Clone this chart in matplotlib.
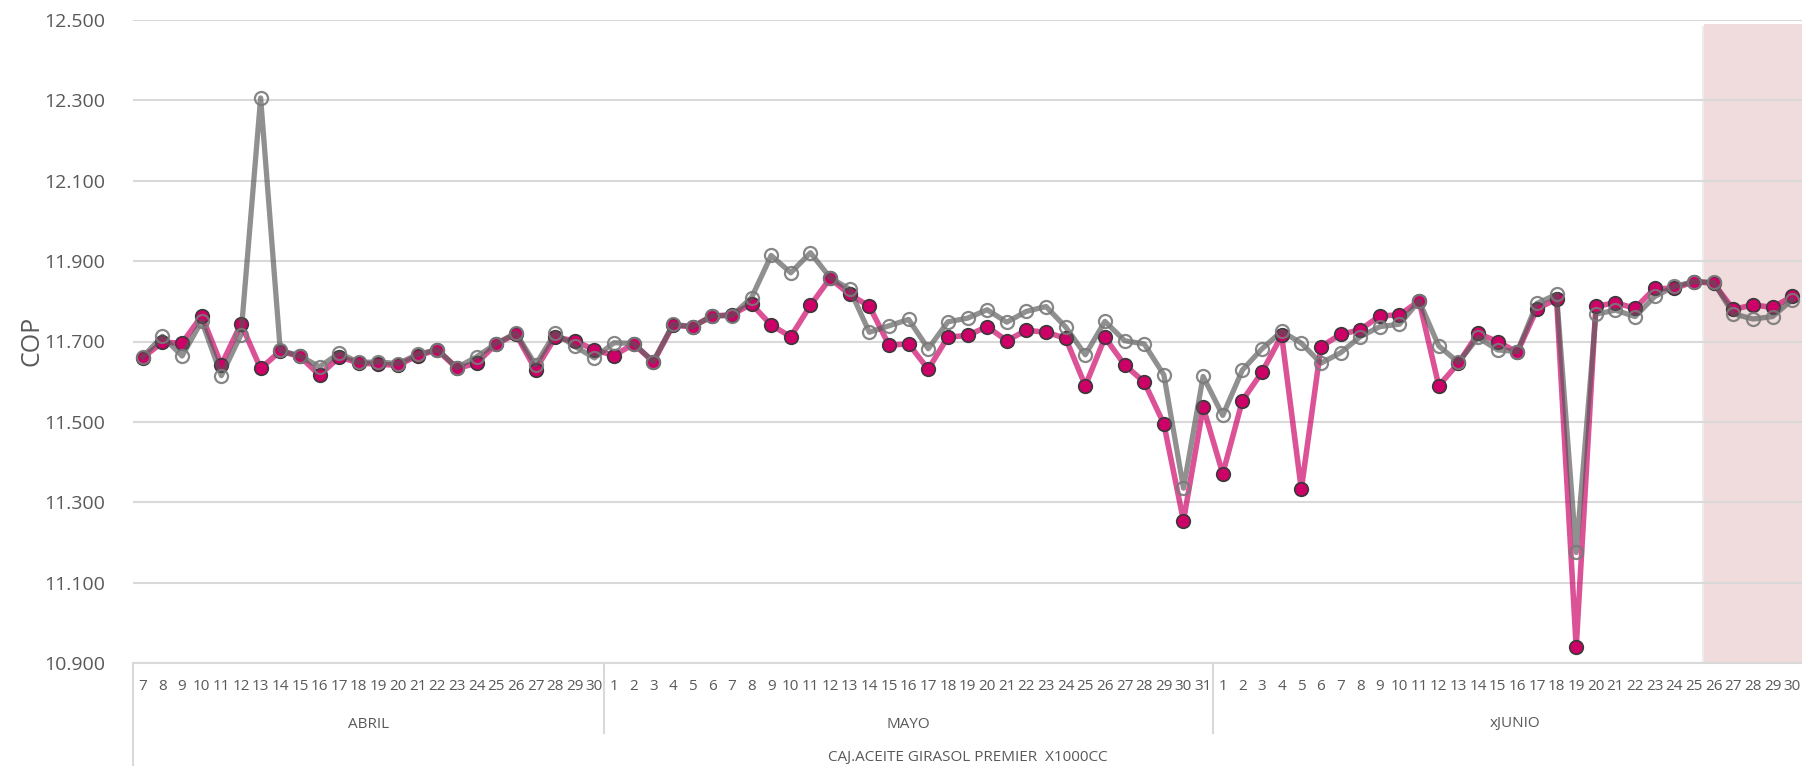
import matplotlib
matplotlib.use("Agg")
import matplotlib.pyplot as plt
from matplotlib.patches import Rectangle
import matplotlib.patheffects as pe

plt.rcParams['font.family'] = ['Open Sans', 'DejaVu Sans']

# ---------------- data ----------------
months = ["ABRIL", "MAYO", "xJUNIO"]
abril_days = list(range(7, 31))
mayo_days = list(range(1, 32))
junio_days = list(range(1, 31))
product = "CAJ.ACEITE GIRASOL PREMIER  X1000CC"

serie_magenta = [
    # ABRIL 7-30
    11660, 11698, 11696, 11764, 11642, 11744, 11633, 11676, 11663, 11616,
    11661, 11647, 11643, 11641, 11665, 11679, 11633, 11646, 11694, 11718,
    11630, 11710, 11702, 11679,
    # MAYO 1-31
    11665, 11694, 11649, 11740, 11737, 11763, 11767, 11793, 11741, 11712,
    11790, 11857, 11817, 11788, 11691, 11694, 11631, 11711, 11715, 11737,
    11702, 11728, 11723, 11708, 11590, 11710, 11642, 11599, 11495, 11254,
    11537,
    # JUNIO 1-30
    11371, 11553, 11624, 11715, 11332, 11687, 11718, 11729, 11764, 11766,
    11801, 11590, 11646, 11720, 11700, 11673, 11781, 11806, 10939, 11788,
    11796, 11783, 11832, 11832, 11849, 11845, 11780, 11791, 11785, 11812,
]

serie_gris = [
    # ABRIL 7-30
    11662, 11713, 11664, 11751, 11615, 11717, 12306, 11678, 11664, 11637,
    11671, 11648, 11649, 11645, 11668, 11680, 11635, 11662, 11695, 11721,
    11642, 11721, 11688, 11659,
    # MAYO 1-31
    11697, 11695, 11650, 11743, 11737, 11764, 11764, 11809, 11914, 11871,
    11921, 11859, 11830, 11723, 11739, 11755, 11682, 11749, 11758, 11779,
    11748, 11775, 11787, 11736, 11667, 11750, 11702, 11694, 11617, 11335,
    11613,
    # JUNIO 1-30
    11516, 11629, 11682, 11725, 11696, 11646, 11672, 11712, 11737, 11743,
    11801, 11689, 11648, 11710, 11679, 11675, 11795, 11817, 11175, 11768,
    11778, 11762, 11812, 11837, 11849, 11847, 11769, 11756, 11762, 11804,
]

y_ticks = [10900, 11100, 11300, 11500, 11700, 11900, 12100, 12300, 12500]
shade_start_index = 80   # JUNIO 26 onward is shaded

# ---------------- figure ----------------
W, H = 1802, 766
fig = plt.figure(figsize=(W / 100, H / 100), dpi=100)
ax_left, ax_right, ax_top, ax_bot = 133, 1802, 20, 663
ax = fig.add_axes([ax_left / W, 1 - ax_bot / H, (ax_right - ax_left) / W, (ax_bot - ax_top) / H])

day_labels = [str(d) for d in abril_days + mayo_days + junio_days]
n = len(day_labels)
x = list(range(n))

ax.set_xlim(-0.5, n - 0.5)
ax.set_ylim(y_ticks[0], y_ticks[-1])

# gridlines
for yt in y_ticks:
    ax.axhline(yt, color="#d9d9d9", lw=1.5, zorder=1)

# shaded region
shade = Rectangle((shade_start_index - 0.5, y_ticks[0]), n - shade_start_index + 1,
                  12490 - y_ticks[0], facecolor="#f0dcdc", edgecolor="none", zorder=0.5,
                  path_effects=[pe.SimplePatchShadow(offset=(-1.5, -1.5), shadow_rgbFace="#9a9a9a", alpha=0.18),
                                pe.Normal()])
ax.add_patch(shade)

# series
ax.plot(x, serie_magenta, color="#cc0066", alpha=0.68, lw=4.0, zorder=3, solid_joinstyle="round")
ax.plot(x, serie_magenta, ls="none", marker="o", ms=9.8, mfc="#cc0066", mec="#3a3a3a", mew=1.2, zorder=4)
ax.plot(x, serie_gris, color="#555555", alpha=0.65, lw=3.8, zorder=5, solid_joinstyle="round")
ax.plot(x, serie_gris, ls="none", marker="o", ms=9.4, mfc="none", mec="#7a7a7a", mew=1.6, alpha=0.9, zorder=6)

# y axis
ax.set_yticks(y_ticks)
ax.set_yticklabels([f"{v:,.0f}".replace(",", ".") for v in y_ticks], fontsize=14, color="#595959")
ax.tick_params(axis="y", length=0, pad=20)
ax.set_xticks([])
for s in ax.spines.values():
    s.set_visible(False)

fig.text(32 / W, 1 - 341 / H, "COP", rotation=90, ha="center", va="center", fontsize=18, color="#595959")

# category axis (multi-level)
trans = ax.get_xaxis_transform()
axh = ax_bot - ax_top
def ay(py):
    return (ax_bot - py) / axh

for i, lab in enumerate(day_labels):
    ax.text(i, ay(687), lab, transform=trans, ha="center", va="center", fontsize=11,
            color="#595959", clip_on=False)

sizes = [len(abril_days), len(mayo_days), len(junio_days)]
month_pos = [11.5, 39.0, 69.9]
for m, p in zip(months, month_pos):
    ax.text(p, ay(724), m, transform=trans, ha="center", va="center", fontsize=11,
            color="#595959", clip_on=False)

ax.text((n - 1) / 2, ay(757), product, transform=trans, ha="center", va="center", fontsize=11,
        color="#595959", clip_on=False)

# separators
line_kw = dict(color="#d9d9d9", lw=1.5, transform=trans, clip_on=False)
ax.plot([-0.5, n - 0.5], [0, 0], **line_kw)
ax.plot([-0.5, -0.5], [0, ay(H)], **line_kw)
b = -0.5
for s in sizes[:-1]:
    b += s
    ax.plot([b, b], [0, ay(733)], **line_kw)

fig.savefig("out.png", dpi=100, facecolor="white")
